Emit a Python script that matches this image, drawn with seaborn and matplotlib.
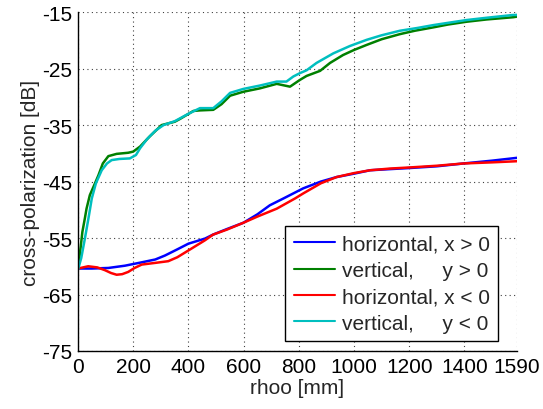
import numpy as np
import pandas as pd
import matplotlib
matplotlib.use("Agg")
import matplotlib.pyplot as plt
import seaborn as sns

# horizontal, x > 0 (blue)
hx_pos_rho = [0, 50, 110, 170, 231, 280, 315, 360, 400, 460, 489, 540, 599, 650, 695,
              744, 816, 880, 937, 1000, 1058, 1130, 1203, 1300, 1396, 1500, 1590]
hx_pos_db = [-60.4, -60.4, -60.3, -59.9, -59.3, -58.8, -58.1, -57.0, -56.0, -55.1, -54.4,
             -53.4, -52.3, -50.8, -49.2, -48.0, -46.2, -45.0, -44.2, -43.6, -43.0, -42.8,
             -42.6, -42.3, -41.8, -41.3, -40.8]

# vertical, y > 0 (green)
vy_pos_rho = [0, 10, 16, 25, 31, 43, 60, 74, 90, 110, 140, 182, 200, 225, 260, 303, 351,
              370, 418, 442, 490, 520, 551, 599, 659, 720, 768, 804, 828, 877, 913, 960,
              1000, 1046, 1100, 1166, 1220, 1287, 1340, 1408, 1480, 1577, 1590]
vy_pos_db = [-60.4, -56.5, -53.9, -51.5, -49.8, -47.4, -45.5, -43.9, -41.8, -40.5, -40.1,
             -39.9, -39.7, -38.8, -37.0, -35.0, -34.4, -33.9, -32.5, -32.4, -32.3, -31.3,
             -29.8, -29.1, -28.5, -27.7, -28.2, -27.0, -26.3, -25.4, -24.0, -22.6, -21.7,
             -20.8, -19.8, -18.9, -18.3, -17.7, -17.2, -16.7, -16.3, -15.9, -15.8]

# horizontal, x < 0 (red)
hx_neg_rho = [0, 37, 70, 98, 120, 140, 160, 182, 205, 231, 280, 327, 360, 400, 460, 489,
              540, 599, 650, 720, 786, 816, 880, 937, 1000, 1058, 1130, 1203, 1300, 1396,
              1500, 1590]
hx_neg_db = [-60.4, -60.0, -60.2, -60.7, -61.2, -61.5, -61.4, -61.0, -60.3, -59.7, -59.4,
             -59.1, -58.4, -57.2, -55.4, -54.4, -53.5, -52.3, -51.2, -49.8, -48.0, -47.1,
             -45.3, -44.2, -43.5, -43.0, -42.7, -42.5, -42.2, -41.8, -41.6, -41.4]

# vertical, y < 0 (cyan)
vy_neg_rho = [0, 12, 25, 38, 50, 65, 86, 105, 122, 150, 188, 210, 225, 250, 280, 310, 351,
              400, 442, 490, 520, 551, 599, 659, 720, 755, 780, 804, 828, 864, 925, 985,
              1046, 1100, 1166, 1230, 1287, 1340, 1408, 1480, 1577, 1590]
vy_neg_db = [-60.6, -58.5, -55.1, -51.5, -48.0, -45.3, -43.0, -41.8, -41.2, -41.0, -40.9,
             -40.3, -39.1, -37.5, -36.0, -35.0, -34.3, -33.0, -32.0, -32.0, -30.8, -29.3,
             -28.6, -28.0, -27.3, -27.3, -26.4, -25.8, -25.3, -24.0, -22.3, -21.0, -19.9,
             -19.1, -18.3, -17.8, -17.3, -16.9, -16.4, -16.0, -15.5, -15.5]

labels = ["horizontal, x > 0", "vertical,     y > 0", "horizontal, x < 0", "vertical,     y < 0"]
colors = ["#0000ff", "#008000", "#ff0000", "#00bfbf"]
x_ticks = [0, 200, 400, 600, 800, 1000, 1200, 1400, 1590]
y_ticks = [-75, -65, -55, -45, -35, -25, -15]

sns.set_style("white")
plt.rcParams['font.family'] = ['Liberation Sans', 'DejaVu Sans']
plt.rcParams['axes.unicode_minus'] = False

fig, ax = plt.subplots(figsize=(5.43, 4.10), dpi=100)
fig.subplots_adjust(left=0.1436, right=0.952, top=0.968, bottom=0.1415)

series = [(hx_pos_rho, hx_pos_db), (vy_pos_rho, vy_pos_db),
          (hx_neg_rho, hx_neg_db), (vy_neg_rho, vy_neg_db)]
for (rho, db), lab, col in zip(series, labels, colors):
    sns.lineplot(x=rho, y=db, color=col, linewidth=1.8, label=lab,
                 estimator=None, ax=ax)

ax.set_xlim(0, 1590)
ax.set_ylim(-75, -15)
ax.set_xticks(x_ticks)
ax.set_yticks(y_ticks)
ax.grid(True, color='0.25', linestyle=(0, (1, 3)), linewidth=0.8)
for s in ['top', 'right']:
    ax.spines[s].set_visible(False)
for s in ['left', 'bottom']:
    ax.spines[s].set_color('black')
    ax.spines[s].set_linewidth(1.0)
ax.tick_params(direction='in', length=3.5, width=0.8, colors='black',
               labelsize=15, pad=4)
ax.set_xlabel('rhoo [mm]', fontsize=15, labelpad=2)
ax.set_ylabel('cross-polarization [dB]', fontsize=15, labelpad=2)

leg = ax.legend(loc='lower right', bbox_to_anchor=(0.9567, 0.0296), borderaxespad=0,
                fontsize=15, frameon=True, fancybox=False, framealpha=1,
                edgecolor='black', handlelength=2.0, handletextpad=0.3,
                labelspacing=0.35, borderpad=0.4)
leg.get_frame().set_linewidth(1.0)
for line in leg.get_lines():
    line.set_linewidth(1.5)

fig.savefig('out.png', dpi=100, facecolor='white')
